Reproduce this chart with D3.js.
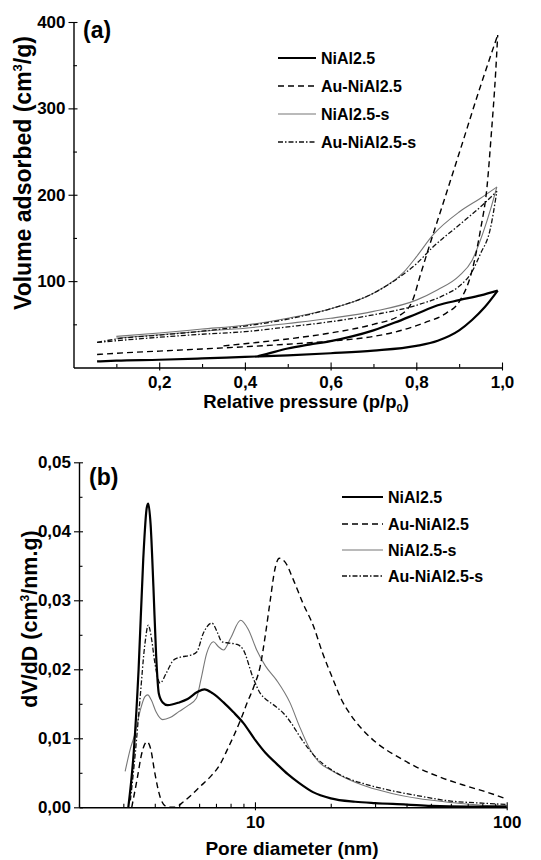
<!DOCTYPE html>
<html><head><meta charset="utf-8">
<script src="https://cdn.jsdelivr.net/npm/d3@7"></script>
<style>
body{margin:0;background:#fff}
svg{display:block}
text{font-family:"Liberation Sans",Arial,Helvetica,sans-serif;font-weight:bold;fill:#000}
</style></head><body>
<svg id="c" width="541" height="860"></svg>
<script>
// ---------- DATA ----------
const seriesNames = ["NiAl2.5", "Au-NiAl2.5", "NiAl2.5-s", "Au-NiAl2.5-s"];

// Panel (a): isotherms [p/p0, volume]
const isoNiAl_ads = [[0.055,7],[0.1,8],[0.2,9],[0.3,10.5],[0.4,12.3],[0.5,14],[0.6,16.5],[0.7,19.5],[0.8,25],[0.85,31],[0.9,43],[0.93,55],[0.96,70],[0.99,89]];
const isoNiAl_des = [[0.43,13],[0.45,15.5],[0.5,22],[0.55,26.5],[0.6,30.5],[0.65,36],[0.7,43],[0.75,52],[0.8,62],[0.85,72],[0.9,78],[0.95,83.5],[0.99,89]];
const isoAuNiAl_ads = [[0.055,15],[0.1,16.5],[0.2,19],[0.3,21.5],[0.4,24],[0.5,27],[0.6,30.5],[0.7,36],[0.75,41],[0.82,52],[0.87,63],[0.9,76],[0.93,112],[0.95,160],[0.965,209],[0.975,270],[0.985,340],[0.99,385]];
const isoAuNiAl_des = [[0.35,25],[0.4,27.5],[0.5,33],[0.6,40],[0.7,50],[0.76,60],[0.79,76],[0.81,108],[0.83,140],[0.86,186],[0.9,248],[0.95,326],[0.99,385]];
const isoNiAlS_ads = [[0.1,34],[0.2,38],[0.3,42],[0.4,45.5],[0.5,51],[0.6,57],[0.7,65],[0.8,78],[0.85,90],[0.9,106],[0.93,124],[0.955,155],[0.975,186],[0.988,209]];
const isoNiAlS_des = [[0.1,36],[0.2,40],[0.3,44.5],[0.4,49],[0.5,57],[0.6,68],[0.7,86],[0.77,110],[0.8,128],[0.84,154],[0.9,180],[0.95,196],[0.988,209]];
const isoAuNiAlS_ads = [[0.055,29],[0.1,31],[0.2,35],[0.3,38.5],[0.4,41.5],[0.5,47],[0.6,53],[0.7,61],[0.8,72],[0.87,85],[0.9,94],[0.93,111],[0.95,132],[0.972,159],[0.988,204]];
const isoAuNiAlS_des = [[0.055,29],[0.1,33],[0.2,37.5],[0.3,42],[0.4,48],[0.5,56],[0.6,68],[0.7,86],[0.77,108],[0.8,120],[0.84,140],[0.9,165],[0.95,186],[0.988,204]];

// Panel (b): pore size distributions [diameter nm, dV/dD]
const psdNiAl = [[3.14,0],[3.3,0.008],[3.45,0.02],[3.6,0.036],[3.72,0.0435],[3.77,0.044],[3.85,0.041],[3.95,0.032],[4.05,0.022],[4.15,0.0165],[4.3,0.0152],[4.5,0.0148],[5.0,0.0152],[5.4,0.0157],[5.9,0.0167],[6.3,0.0171],[6.8,0.0165],[7.5,0.0152],[8.2,0.0138],[9.0,0.0122],[10,0.0098],[11,0.0079],[12.2,0.0063],[13.5,0.0048],[15,0.0035],[17,0.0022],[20,0.0013],[25,0.0008],[30,0.0006],[40,0.0004],[50,0.0002],[70,0.0001],[100,0.0001]];
const psdAuNiAl = [[3.24,0],[3.4,0.004],[3.55,0.0078],[3.72,0.0095],[3.85,0.0085],[4.0,0.005],[4.2,0.0015],[4.4,0.0002],[4.6,0],[4.8,0],[5.2,0.0008],[5.6,0.0018],[6.05,0.003],[6.6,0.0043],[7.26,0.0062],[7.8,0.0085],[8.2,0.0102],[8.8,0.0128],[9.3,0.0151],[9.9,0.0175],[10.5,0.0205],[11.0,0.025],[11.5,0.03],[12.0,0.0345],[12.5,0.0361],[13.2,0.0355],[14.2,0.033],[15.5,0.0296],[17.1,0.0262],[18.5,0.0225],[20.5,0.0184],[22,0.0157],[24,0.0134],[27,0.0111],[30.5,0.0093],[37,0.0073],[44,0.0058],[55,0.0043],[69,0.0031],[85,0.0021],[100,0.0012]];
const psdNiAlS = [[3.05,0.0052],[3.2,0.0085],[3.34,0.0107],[3.5,0.014],[3.65,0.016],[3.75,0.0163],[3.88,0.0155],[4.05,0.0138],[4.3,0.0127],[4.6,0.013],[5.0,0.0139],[5.4,0.0147],[5.85,0.0158],[6.1,0.0185],[6.43,0.0223],[6.84,0.024],[7.15,0.0233],[7.5,0.0228],[8.0,0.0245],[8.77,0.0271],[9.4,0.0258],[10.16,0.0228],[11,0.0205],[12.2,0.0184],[13.8,0.0151],[15,0.0118],[16.6,0.0083],[18,0.0065],[20,0.0054],[23,0.0042],[27.8,0.003],[35,0.002],[44,0.0013],[60,0.0007],[80,0.0003],[100,0.0002]];
const psdAuNiAlS = [[3.2,0.001],[3.35,0.008],[3.5,0.016],[3.65,0.0235],[3.77,0.0264],[3.88,0.0245],[4.0,0.021],[4.2,0.018],[4.45,0.0195],[4.74,0.0213],[5.1,0.0218],[5.5,0.022],[5.87,0.0225],[6.23,0.0252],[6.74,0.0267],[7.1,0.0253],[7.38,0.024],[7.9,0.0238],[8.5,0.0236],[9.0,0.0228],[9.8,0.0189],[10.5,0.0165],[11.1,0.0156],[12,0.0147],[13,0.0136],[14,0.0121],[15.1,0.0102],[17.6,0.0071],[20,0.0055],[23,0.0043],[27.8,0.0033],[35,0.0024],[44,0.0017],[60,0.0009],[80,0.0006],[100,0.0004]];

// Ticks
const aXMajor = [0.2,0.4,0.6,0.8,1.0];
const aXMinor = [0.1,0.3,0.5,0.7,0.9];
const aYMajor = [100,200,300,400];
const aYMinor = [50,150,250,350];
const bXMajor = [10,100];
const bXMinor = [2,3,4,5,6,7,8,9,20,30,40,50,60,70,80,90];
const bYMajor = [0,0.01,0.02,0.03,0.04,0.05];
const bYMinor = [0.005,0.015,0.025,0.035,0.045];

// ---------- STYLES ----------
const styles = [
  {stroke:"#000", width:2.2, dash:null},
  {stroke:"#000", width:1.4, dash:"6,4"},
  {stroke:"#777", width:1.1, dash:null},
  {stroke:"#111", width:1.3, dash:"5,2,1.5,2"}
];
const comma = f => (v => d3.format(f)(v).replace(".", ","));

const svg = d3.select("#c");

function axes(g, x, y, xMaj, xMin, yMaj, yMin, xFmt, yFmt, xPad, yPad) {
  const gx = g.append("g").attr("transform", `translate(0,${y.range()[0]})`)
    .call(d3.axisBottom(x).tickValues(xMaj).tickFormat(xFmt).tickSizeInner(5).tickSizeOuter(0).tickPadding(xPad));
  gx.selectAll(".tick line").attr("y1", -5).attr("y2", 3);
  g.append("g").attr("transform", `translate(0,${y.range()[0]})`)
    .call(d3.axisBottom(x).tickValues(xMin).tickFormat("").tickSizeInner(-3.5).tickSizeOuter(0))
    .select(".domain").remove();
  const gy = g.append("g").attr("transform", `translate(${x.range()[0]},0)`)
    .call(d3.axisLeft(y).tickValues(yMaj).tickFormat(yFmt).tickSizeInner(5).tickSizeOuter(0).tickPadding(yPad));
  gy.selectAll(".tick line").attr("x1", 4).attr("x2", -5);
  g.append("g").attr("transform", `translate(${x.range()[0]},0)`)
    .call(d3.axisLeft(y).tickValues(yMin).tickFormat("").tickSizeInner(-3.5).tickSizeOuter(0))
    .select(".domain").remove();
  g.selectAll(".domain").attr("stroke", "#000").attr("stroke-width", 1.4);
  g.selectAll(".tick line").attr("stroke", "#000").attr("stroke-width", 1.1);
  g.selectAll(".tick text").style("font-size", "17px").style("font-family", '"Liberation Sans",Arial,sans-serif').style("font-weight", "bold").attr("fill", "#000");
}

function legend(g, x0, x1, tx, ys) {
  seriesNames.forEach((n, i) => {
    const s = styles[i];
    g.append("line").attr("x1", x0).attr("x2", x1).attr("y1", ys[i]).attr("y2", ys[i])
      .attr("stroke", s.stroke).attr("stroke-width", s.width).attr("stroke-dasharray", s.dash);
    g.append("text").attr("x", tx).attr("y", ys[i] + 6).style("font-size", "16px").text(n);
  });
}

// ---------- PANEL A ----------
{
  const x = d3.scaleLinear().domain([0, 1]).range([73.5, 502]);
  const y = d3.scaleLinear().domain([0, 400]).range([367.5, 22]);
  const g = svg.append("g");
  const line = d3.line().x(d => x(d[0])).y(d => y(d[1])).curve(d3.curveMonotoneX);
  const sets = [[isoNiAl_ads, isoNiAl_des],[isoAuNiAl_ads, isoAuNiAl_des],[isoNiAlS_ads, isoNiAlS_des],[isoAuNiAlS_ads, isoAuNiAlS_des]];
  [2,3,1,0].forEach(i => {
    sets[i].forEach(arr => {
      g.append("path").attr("d", line(arr)).attr("fill", "none")
        .attr("stroke", styles[i].stroke).attr("stroke-width", styles[i].width)
        .attr("stroke-dasharray", styles[i].dash).attr("stroke-linejoin", "round");
    });
  });
  axes(g, x, y, aXMajor, aXMinor, aYMajor, aYMinor, comma(".1f"), d3.format("d"), 3, 3);
  g.append("text").attr("x", 83).attr("y", 38).style("font-size", "23px").text("(a)");
  const xt = g.append("text").attr("x", 306).attr("y", 408).attr("text-anchor", "middle").style("font-size", "18.5px");
  xt.append("tspan").text("Relative pressure (p/p");
  xt.append("tspan").attr("dy", 4).style("font-size", "11px").text("0");
  xt.append("tspan").attr("dy", -4).text(")");
  const yt = g.append("text").attr("transform", "translate(31,173) rotate(-90)").attr("text-anchor", "middle").style("font-size", "23px");
  yt.append("tspan").text("Volume adsorbed (cm");
  yt.append("tspan").attr("dy", -9).style("font-size", "13px").text("3");
  yt.append("tspan").attr("dy", 9).text("/g)");
  legend(g, 278, 316, 321, [58, 86, 114, 142]);
}

// ---------- PANEL B ----------
{
  const x = d3.scaleLog().domain([2, 100]).range([79, 506.7]);
  const y = d3.scaleLinear().domain([0, 0.05]).range([807.3, 462.3]);
  const g = svg.append("g");
  const line = d3.line().x(d => x(d[0])).y(d => y(d[1])).curve(d3.curveMonotoneX);
  const sets = [psdNiAl, psdAuNiAl, psdNiAlS, psdAuNiAlS];
  [2,3,1,0].forEach(i => {
    g.append("path").attr("d", line(sets[i])).attr("fill", "none")
      .attr("stroke", styles[i].stroke).attr("stroke-width", styles[i].width)
      .attr("stroke-dasharray", styles[i].dash).attr("stroke-linejoin", "round");
  });
  axes(g, x, y, bXMajor, bXMinor, bYMajor, bYMinor, d3.format("d"), comma(".2f"), 4, 3);
  g.append("text").attr("x", 89).attr("y", 485).style("font-size", "23px").text("(b)");
  g.append("text").attr("x", 292).attr("y", 855).attr("text-anchor", "middle").style("font-size", "19px").text("Pore diameter (nm)");
  const yt = g.append("text").attr("transform", "translate(37,619) rotate(-90)").attr("text-anchor", "middle").style("font-size", "21.5px");
  yt.append("tspan").text("dV/dD (cm");
  yt.append("tspan").attr("dy", -8).style("font-size", "12px").text("3");
  yt.append("tspan").attr("dy", 8).text("/nm.g)");
  legend(g, 342, 383, 388, [497, 524, 550, 576]);
}
</script>
</body></html>
